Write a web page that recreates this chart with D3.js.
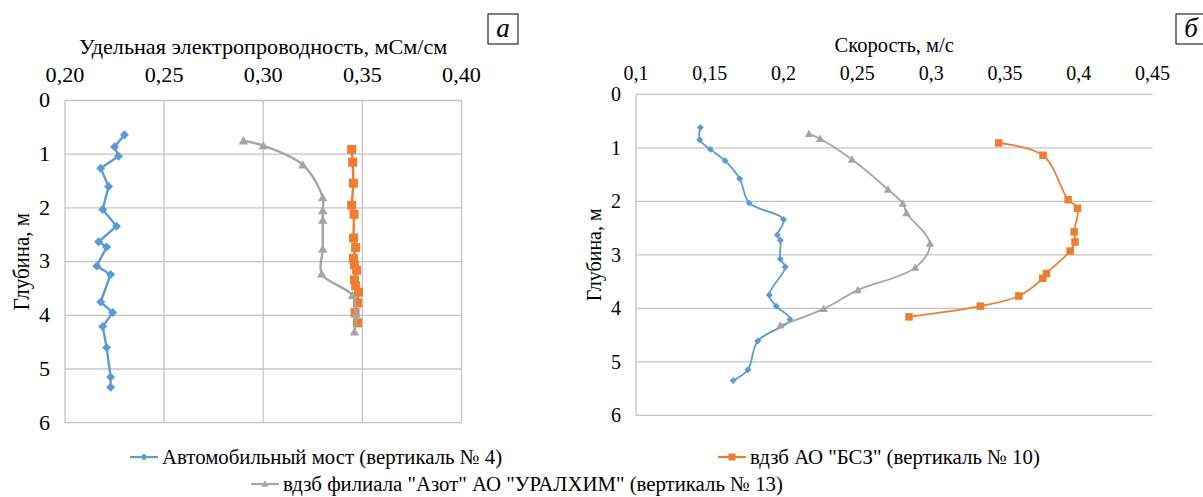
<!DOCTYPE html>
<html>
<head>
<meta charset="utf-8">
<script src="https://cdn.jsdelivr.net/npm/d3@7"></script>
<style>
  body { margin: 0; background: #fff; }
  svg { display: block; }
</style>
</head>
<body>
<svg id="chart" width="1203" height="497" font-family="'Liberation Serif', 'DejaVu Serif', 'Times New Roman', serif"></svg>
<script>
// ---- Panel "а": specific conductivity, mS/cm vs depth, m ----
const condTicks = [0.20, 0.25, 0.30, 0.35, 0.40];
const condTickLabels = ["0,20", "0,25", "0,30", "0,35", "0,40"];

const bridgeCondDepth = [0.64, 0.86, 1.04, 1.26, 1.60, 2.03, 2.34, 2.63, 2.73, 3.08, 3.24, 3.75, 3.95, 4.21, 4.60, 5.15, 5.34];
const bridgeCond      = [0.230, 0.225, 0.227, 0.218, 0.222, 0.219, 0.226, 0.217, 0.221, 0.216, 0.223, 0.218, 0.224, 0.219, 0.221, 0.223, 0.223];

const bszCondDepth = [0.91, 1.15, 1.54, 1.95, 2.12, 2.56, 2.74, 2.94, 3.06, 3.16, 3.34, 3.45, 3.57, 3.77, 3.95, 4.14];
const bszCond      = [0.3446, 0.3451, 0.3455, 0.3446, 0.3458, 0.3455, 0.3466, 0.3455, 0.3460, 0.3471, 0.3460, 0.3466, 0.3480, 0.3475, 0.3463, 0.3475];

const azotCondDepth = [0.75, 0.84, 1.20, 1.81, 2.05, 2.23, 2.77, 3.23, 3.63, 3.98, 4.31];
const azotCond      = [0.290, 0.300, 0.320, 0.330, 0.330, 0.330, 0.330, 0.3295, 0.345, 0.3468, 0.346];

// ---- Panel "б": flow velocity, m/s vs depth, m ----
const velTicks = [0.10, 0.15, 0.20, 0.25, 0.30, 0.35, 0.40, 0.45];
const velTickLabels = ["0,1", "0,15", "0,2", "0,25", "0,3", "0,35", "0,4", "0,45"];

const bridgeVelDepth = [0.62, 0.85, 1.03, 1.24, 1.58, 2.03, 2.34, 2.63, 2.73, 3.08, 3.23, 3.75, 3.96, 4.21, 4.61, 5.15, 5.35];
const bridgeVel      = [0.1436, 0.1432, 0.1504, 0.1603, 0.1703, 0.1767, 0.2000, 0.1958, 0.1978, 0.1978, 0.2011, 0.1903, 0.1950, 0.2044, 0.1825, 0.1758, 0.1658];

const bszVelDepth = [0.91, 1.14, 1.97, 2.13, 2.57, 2.76, 2.93, 3.35, 3.44, 3.77, 3.96, 4.16];
const bszVel      = [0.3458, 0.3758, 0.3928, 0.3992, 0.3969, 0.3975, 0.3942, 0.3781, 0.3756, 0.3594, 0.3333, 0.2850];

const azotVelDepth = [0.74, 0.83, 1.22, 1.78, 2.04, 2.22, 2.79, 3.24, 3.66, 4.01, 4.32];
const azotVel      = [0.2172, 0.2247, 0.2464, 0.2708, 0.2808, 0.2833, 0.2992, 0.2892, 0.2503, 0.2272, 0.1978];

const depthTicks = [0, 1, 2, 3, 4, 5, 6];

const seriesNames = [
  "Автомобильный мост (вертикаль № 4)",
  "вдзб АО \"БСЗ\" (вертикаль № 10)",
  "вдзб филиала \"Азот\" АО \"УРАЛХИМ\" (вертикаль № 13)"
];
const seriesColors = ["#5B9BD5", "#ED7D31", "#A5A5A5"];
const seriesMarkers = ["diamond", "square", "triangle"];

const svg = d3.select("#chart");
const gridColor = "#c4c4c4";

function markerPath(type, s) {
  const h = s / 2;
  if (type === "diamond") return `M0,${-h}L${h},0L0,${h}L${-h},0Z`;
  if (type === "square") return `M${-h},${-h}H${h}V${h}H${-h}Z`;
  // triangle
  return `M0,${-h * 1.05}L${h * 1.05},${h * 0.8}L${-h * 1.05},${h * 0.8}Z`;
}

// text placed at (x, y) with an optional horizontal stretch sx
function addText(g, x, y, str, opts) {
  const o = Object.assign({ sx: 1, size: 20, anchor: "middle", dy: null, rotate: 0, italic: false }, opts);
  const t = g.append("text")
    .attr("transform", `translate(${x},${y}) scale(${o.sx},1)` + (o.rotate ? ` rotate(${o.rotate})` : ""))
    .attr("text-anchor", o.anchor)
    .attr("font-size", o.size)
    .text(str);
  if (o.dy) t.attr("dy", o.dy);
  if (o.italic) t.attr("font-style", "italic");
  return t;
}

function drawPanel(cfg) {
  const g = svg.append("g");
  const x = d3.scaleLinear().domain(cfg.xDomain).range([cfg.left, cfg.right]);
  const y = d3.scaleLinear().domain([0, 6]).range([cfg.top, cfg.bottom]);
  const sx = cfg.textStretch;

  // horizontal gridlines
  g.selectAll("line.hg").data(depthTicks).join("line")
    .attr("x1", cfg.left).attr("x2", cfg.right)
    .attr("y1", d => y(d)).attr("y2", d => y(d))
    .attr("stroke", gridColor).attr("stroke-width", 1.3);

  // vertical gridlines (or only the axis line)
  const vLines = cfg.vGrid ? cfg.ticks : [cfg.xDomain[0]];
  g.selectAll("line.vg").data(vLines).join("line")
    .attr("x1", d => x(d)).attr("x2", d => x(d))
    .attr("y1", cfg.top).attr("y2", cfg.bottom)
    .attr("stroke", gridColor).attr("stroke-width", 1.3);

  // top value tick labels
  cfg.ticks.forEach((v, i) => addText(g, x(v), cfg.tickBaseline, cfg.tickLabels[i], { sx }));

  // depth tick labels
  depthTicks.forEach(d => addText(g, cfg.left - 15, y(d), String(d), { sx, anchor: "end", dy: "0.34em" }));

  // axis titles
  addText(g, (cfg.left + cfg.right) / 2, cfg.titleBaseline, cfg.title, { sx, size: cfg.titleSize });
  addText(g, cfg.yTitleX, (cfg.top + cfg.bottom) / 2, "Глубина, м", { sx, rotate: -90, size: cfg.yTitleSize });

  // data series
  cfg.series.forEach(s => {
    const pts = s.depth.map((d, i) => [s.values[i], d]);
    const line = d3.line()
      .x(p => x(p[0])).y(p => y(p[1]))
      .curve(s.smooth ? d3.curveCatmullRom.alpha(0.5) : d3.curveLinear);
    g.append("path").datum(pts)
      .attr("d", line).attr("fill", "none")
      .attr("stroke", seriesColors[s.idx]).attr("stroke-width", cfg.lineWidth)
      .attr("stroke-linejoin", "round");
    g.selectAll(null).data(pts).join("path")
      .attr("transform", p => `translate(${x(p[0])},${y(p[1])})`)
      .attr("d", markerPath(seriesMarkers[s.idx], cfg.markerSize[s.idx]))
      .attr("fill", seriesColors[s.idx]);
  });

  // panel letter
  g.append("rect")
    .attr("x", cfg.boxX).attr("y", 14).attr("width", 30).attr("height", 30)
    .attr("fill", "#fff").attr("stroke", "#000").attr("stroke-width", 1);
  addText(g, cfg.boxX + 15, 37, cfg.letter, { size: 27, italic: true });
}

drawPanel({
  xDomain: [0.20, 0.40], left: 65, right: 461.5, top: 100.5, bottom: 422.7,
  ticks: condTicks, tickLabels: condTickLabels, vGrid: true, textStretch: 1.11,
  tickBaseline: 82, title: "Удельная электропроводность, мСм/см", titleBaseline: 54, titleSize: 20,
  yTitleX: 29, yTitleSize: 21, lineWidth: 2.4, markerSize: [9, 9, 9],
  boxX: 488, letter: "а",
  series: [
    { idx: 0, depth: bridgeCondDepth, values: bridgeCond, smooth: false },
    { idx: 1, depth: bszCondDepth, values: bszCond, smooth: false },
    { idx: 2, depth: azotCondDepth, values: azotCond, smooth: true }
  ]
});

drawPanel({
  xDomain: [0.10, 0.45], left: 636, right: 1152.5, top: 94.3, bottom: 415.3,
  ticks: velTicks, tickLabels: velTickLabels, vGrid: false, textStretch: 1,
  tickBaseline: 80, title: "Скорость, м/с", titleBaseline: 52, titleSize: 20.5,
  yTitleX: 601, yTitleSize: 20, lineWidth: 1.8, markerSize: [7, 7.5, 8],
  boxX: 1176, letter: "б",
  series: [
    { idx: 0, depth: bridgeVelDepth, values: bridgeVel, smooth: true },
    { idx: 1, depth: bszVelDepth, values: bszVel, smooth: true },
    { idx: 2, depth: azotVelDepth, values: azotVel, smooth: true }
  ]
});

// legend
const legendItems = [
  { idx: 0, x: 130, y: 457 },
  { idx: 1, x: 718, y: 457 },
  { idx: 2, x: 251, y: 484 }
];
const lg = svg.append("g");
legendItems.forEach(it => {
  lg.append("line")
    .attr("x1", it.x).attr("x2", it.x + 28).attr("y1", it.y).attr("y2", it.y)
    .attr("stroke", seriesColors[it.idx]).attr("stroke-width", 2.2);
  lg.append("path")
    .attr("transform", `translate(${it.x + 14},${it.y})`)
    .attr("d", markerPath(seriesMarkers[it.idx], 7))
    .attr("fill", seriesColors[it.idx]);
  addText(lg, it.x + 32, it.y, seriesNames[it.idx], { anchor: "start", dy: "0.33em", size: 20.8 });
});
</script>
</body>
</html>
